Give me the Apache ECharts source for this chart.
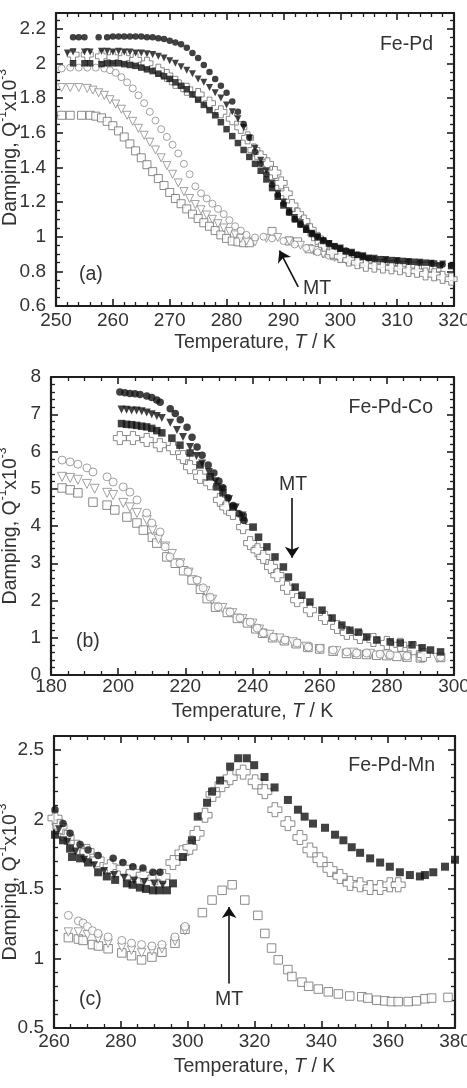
<!DOCTYPE html>
<html><head><meta charset="utf-8">
<script src="https://cdn.jsdelivr.net/npm/echarts@6/dist/echarts.min.js"></script>
<style>html,body{margin:0;padding:0;background:#fff}#c{width:467px;height:1088px}</style>
</head><body><div id="c"></div>
<script>
// ---------- Panel (a) Fe-Pd ----------
const aFilledCircle = [[253,2.15],[254,2.15],[255,2.15],[257.5,2.15],[259,2.15],[260,2.155],[261,2.155],[262,2.155],[263,2.155],[264,2.155],[265,2.155],[266,2.15],[267,2.15],[268,2.145],[269,2.14],[270,2.13],[271,2.12],[272,2.11],[273,2.09],[274,2.06],[275,2.03],[276,1.99],[277,1.95],[278,1.91],[279,1.87],[280,1.83],[281,1.78],[282,1.72],[283,1.65],[284,1.57],[285,1.49],[286,1.42],[287,1.36],[288,1.30],[289,1.24],[290,1.19],[291,1.14],[292,1.10],[293,1.07],[294,1.04],[295,1.02],[296,1.0],[297,0.98],[298,0.96],[299,0.945],[300,0.93],[301,0.92],[302,0.905],[303,0.895],[304,0.885],[305,0.875],[306,0.87],[308,0.865],[310,0.86],[312,0.855],[314,0.85],[316,0.845],[318,0.84],[319.5,0.835]];
const aFilledTri = [[252,2.06],[253,2.065],[255,2.065],[256,2.065],[258,2.07],[259,2.07],[260,2.065],[261,2.07],[262,2.065],[263,2.065],[264,2.06],[265,2.06],[266,2.055],[267,2.05],[268,2.04],[269,2.03],[270,2.015],[271,2.0],[272,1.98],[273,1.96],[274,1.94],[275,1.91],[276,1.89],[277,1.86],[278,1.83],[279,1.80],[280,1.76],[281,1.72],[282,1.68],[283,1.63],[284,1.57],[285,1.51],[286,1.44],[287,1.38],[288,1.31],[289,1.25],[290,1.2],[291,1.15],[292,1.11],[293,1.08],[294,1.05],[295,1.02],[296,1.0],[297,0.975],[298,0.96],[300,0.935],[302,0.91],[304,0.89],[306,0.875],[308,0.868],[310,0.862],[312,0.857],[314,0.852],[316,0.847],[318,0.842]];
const aFilledSq = [[253,2.0],[255,2.0],[256,2.0],[258,1.995],[259,2.0],[260,2.0],[261,2.0],[262,1.995],[263,1.99],[264,1.985],[265,1.975],[266,1.965],[267,1.955],[268,1.94],[269,1.925],[270,1.91],[271,1.89],[272,1.87],[273,1.85],[274,1.82],[275,1.79],[276,1.76],[277,1.73],[278,1.70],[279,1.66],[280,1.62],[281,1.58],[282,1.54],[283,1.50],[284,1.46],[285,1.42],[286,1.38],[287,1.33],[288,1.28],[289,1.23],[290,1.18],[291,1.14],[292,1.10],[293,1.07],[294,1.04],[295,1.015],[296,0.995],[297,0.975],[298,0.96],[299,0.945],[300,0.93],[301,0.915],[302,0.905],[303,0.895],[304,0.885],[305,0.878],[307,0.87],[309,0.865],[311,0.86],[313,0.855],[315,0.85],[316.5,0.845],[317.5,0.835],[319.5,0.83]];
const aOpenPlus = [[253,2.05],[255.5,2.05],[258,2.04],[260,2.035],[262,2.03],[264,2.02],[266,2.0],[268,1.96],[269.5,1.93],[271,1.89],[273,1.85],[275,1.82],[277,1.77],[279,1.72],[281,1.68],[282.5,1.63],[283.7,1.57],[284.8,1.50],[286,1.46],[287.2,1.42],[288.5,1.37],[289.6,1.31],[290.5,1.25],[291.5,1.18],[292.5,1.13],[293.6,1.09],[294.7,1.04],[296,0.99],[297.2,0.95],[298.6,0.91],[300,0.885],[301.5,0.865],[303,0.85],[304.5,0.835],[306,0.83],[307.5,0.825],[309,0.82],[310.5,0.815],[312,0.805],[313.5,0.80],[315,0.785],[316.5,0.78],[318,0.765],[319.5,0.755]];
const aOpenCircle = [[251,1.97],[252.5,1.975],[254,1.975],[255.5,1.975],[257,1.975],[258.5,1.97],[259.5,1.96],[260.5,1.945],[261.5,1.92],[262.5,1.89],[263.5,1.855],[264.5,1.815],[265.5,1.77],[266.5,1.72],[267.5,1.67],[268.5,1.62],[269.5,1.575],[270.5,1.53],[271.5,1.48],[272.5,1.42],[273.5,1.36],[274.5,1.29],[275.5,1.25],[276.5,1.22],[277.5,1.19],[278.5,1.16],[279.5,1.13],[280.5,1.095],[281.5,1.06],[282.5,1.035],[283.5,1.01],[285,0.995],[286.5,1.0],[288,0.99],[290,0.975],[292,0.955],[294,0.935],[296,0.91],[298,0.89],[300,0.875],[302,0.86],[304,0.85]];
const aOpenTri = [[251,1.86],[252.5,1.86],[254,1.86],[255.5,1.855],[256.5,1.845],[257.5,1.83],[258.5,1.815],[259.5,1.79],[260.5,1.765],[261.5,1.735],[262.5,1.70],[263.5,1.665],[264.5,1.625],[265.5,1.585],[266.5,1.545],[267.5,1.50],[268.5,1.455],[269.5,1.41],[270.5,1.36],[271.5,1.31],[272.5,1.26],[273.5,1.22],[274.5,1.185],[275.5,1.155],[276.5,1.125],[277.5,1.1],[278.5,1.075],[279.5,1.05],[280.5,1.03],[281.5,1.01],[282.5,0.99],[283.5,0.975],[285,0.97],[287,0.99],[289,0.995],[291,0.975],[293,0.95],[295,0.925],[297,0.9],[299,0.88],[301,0.865],[303,0.85]];
const aOpenSq = [[251,1.70],[252.5,1.70],[254.5,1.70],[256,1.70],[257,1.695],[258,1.685],[259,1.665],[260,1.64],[261,1.61],[262,1.575],[263,1.535],[264,1.495],[265,1.455],[266,1.415],[267,1.375],[268,1.335],[269,1.295],[270,1.255],[271,1.22],[272,1.19],[273,1.16],[274,1.13],[275,1.105],[276,1.08],[277,1.06],[278,1.035],[279,1.01],[280,0.99],[281,0.975],[282,0.97],[283,0.965],[284,0.965],[288,1.03],[291,0.975],[292.5,0.97],[294.5,0.93],[296,0.92],[297.5,0.905],[299,0.89],[300.5,0.88],[302,0.87],[303.5,0.86],[305,0.85],[307,0.845],[309,0.84],[311,0.835],[313,0.83],[315,0.83],[317,0.82]];
const aArrow = [[292.6,0.71],[289.3,0.92]];

// ---------- Panel (b) Fe-Pd-Co ----------
const bFilledCircle = [[200.5,7.6],[202,7.58],[203.5,7.56],[205,7.55],[206.5,7.53],[208.5,7.49],[210,7.45],[211.5,7.38],[212.5,7.32],[215.5,7.15],[217,7.02],[218.5,6.85],[220.5,6.65],[222,6.38],[223.5,6.12],[225,5.9],[226.8,5.64],[228.5,5.42],[230,5.2],[231.2,5.03],[232.7,4.76],[234.2,4.55],[236,4.33],[237.5,4.15]];
const bFilledTri = [[201,7.13],[202.5,7.12],[204,7.1],[205.5,7.1],[207,7.08],[208.5,7.05],[210,7.0],[211.5,6.95],[213,6.9],[215.5,6.77],[217.5,6.58],[219.3,6.39],[221.4,6.12],[223.3,5.88],[225,5.68],[227,5.45],[229,5.2],[231,4.98],[233,4.72],[235,4.5],[237,4.28]];
const bFilledSq = [[201,6.75],[202.5,6.73],[204,6.72],[205.5,6.7],[207,6.68],[208.5,6.66],[210,6.62],[211.5,6.56],[213,6.5],[216,6.36],[218.4,6.17],[221.4,5.96],[224.4,5.64],[227.4,5.32],[229.4,5.05],[231.2,4.89],[234.2,4.51],[237.2,4.24],[240.2,3.97],[241.8,3.7],[244.3,3.44],[246.7,3.17],[249.2,2.9],[250.7,2.63],[252.7,2.36],[254.7,2.14],[257.1,1.96],[260.7,1.74],[263.7,1.53],[266.6,1.34],[269,1.2],[271.5,1.15],[274,1.02],[277,0.94],[281,0.89],[284,0.86],[287.5,0.81],[290.5,0.73],[293,0.67],[296,0.62]];
const bOpenPlus = [[200.5,6.36],[204.4,6.36],[208.5,6.31],[212.4,6.17],[216.3,6.09],[219.3,5.85],[221.4,5.58],[224.4,5.32],[227.4,5.15],[230.3,4.7],[232.2,4.5],[234.2,4.35],[237.2,3.97],[239.3,3.54],[241.5,3.35],[243.2,3.17],[245.5,2.9],[247.4,2.68],[250.3,2.34],[253.3,2.01],[257.1,1.74],[261.6,1.53],[265.2,1.29],[268.1,1.13],[272,1.02],[276,0.94],[280,0.86],[284,0.81],[288,0.72],[291,0.54]];
const bOpenCircle = [[183.3,5.77],[185.7,5.72],[188,5.66],[190.7,5.56],[192.5,5.45],[196.7,5.32],[198.5,5.18],[201.5,5.05],[203.5,4.91],[205.6,4.7],[208.5,4.35],[210,4.08],[212.5,3.84],[214,3.44],[215.4,3.17],[218.4,3.0],[220.8,2.77],[223.5,2.55],[225.3,2.34],[227.4,2.09],[229.8,1.83],[233.3,1.69],[236.3,1.53],[239.3,1.42],[241.4,1.26],[243.2,1.13],[246.2,1.02],[249.7,0.94],[253.3,0.86],[256.6,0.75],[260.1,0.72],[264,0.67],[268.1,0.62],[271,0.59],[274,0.59],[278,0.56],[281,0.54],[286,0.51],[290,0.48],[296,0.48]];
const bOpenTri = [[183.3,5.32],[185.7,5.29],[188,5.24],[190.7,5.13],[193,5.0],[196.7,4.89],[198.5,4.83],[201.5,4.62],[203.5,4.5],[205.6,4.35],[208.5,4.16],[210.2,3.89],[212,3.65],[214,3.45],[216,3.25],[218.5,3.0],[221,2.75],[223.5,2.5],[226,2.25],[228,2.02],[231,1.8],[234,1.66],[237,1.5],[240,1.38],[242,1.22],[245,1.08],[248,0.98],[252,0.88],[256,0.76],[260,0.7],[265,0.64],[270,0.6],[275,0.57],[280,0.55],[285,0.51],[290,0.47],[295,0.46]];
const bOpenSq = [[183.3,5.02],[185.7,4.97],[188,4.89],[192.5,4.64],[196.7,4.56],[199,4.43],[202.6,4.24],[205.6,4.08],[207.5,3.89],[210.2,3.7],[211.5,3.54],[214.5,3.17],[217,3.0],[219.5,2.8],[222,2.55],[224.5,2.3],[226.5,2.05],[229,1.82],[232.5,1.68],[235.5,1.52],[238.5,1.4],[241,1.24],[243,1.12],[246,1.0],[249.5,0.92],[253,0.84],[256.5,0.74],[260,0.7],[264,0.64],[268,0.58],[271,0.56],[274,0.55],[277,0.53],[280,0.52],[283,0.5],[286,0.48],[290,0.46],[296,0.47]];
const bArrow = [[251.8,4.75],[251.8,3.15]];

// ---------- Panel (c) Fe-Pd-Mn ----------
const cFilledCircle = [[260.3,2.07],[262.7,1.97],[264.8,1.9],[267.8,1.82],[270.2,1.78],[273.2,1.74],[277.7,1.72],[280.6,1.69],[283.6,1.66],[286.6,1.65],[289.6,1.62],[291.7,1.62]];
const cFilledTri = [[261.5,1.93],[264,1.84],[266.5,1.77],[269,1.71],[272,1.67],[275,1.63],[278,1.6],[281,1.58],[284,1.56],[287,1.55],[290,1.54],[292.5,1.53]];
const cFilledSq = [[260.3,1.89],[262.7,1.85],[264.8,1.79],[265.4,1.73],[267.8,1.72],[270.2,1.69],[273.2,1.62],[275.8,1.59],[278.3,1.565],[281.8,1.54],[283.5,1.53],[285.7,1.51],[287.5,1.5],[289.6,1.49],[291.5,1.49],[293.8,1.49],[295.6,1.54],[298.6,1.73],[301.3,1.85],[303,2.02],[305.8,2.12],[307.3,2.2],[309.7,2.28],[312.7,2.38],[315.1,2.44],[317.7,2.44],[319.9,2.39],[323,2.305],[326,2.23],[330,2.14],[333,2.07],[335,2.02],[337.5,1.97],[341.1,1.94],[344.1,1.89],[346.6,1.85],[349.1,1.80],[351.6,1.76],[354.6,1.72],[357.6,1.69],[360.5,1.66],[363.5,1.62],[366.5,1.60],[369.5,1.59],[371,1.60],[373.5,1.62],[377,1.66],[380,1.71]];
const cOpenPlus = [[260.3,2.01],[261.8,1.95],[263.9,1.87],[266.9,1.80],[269.9,1.77],[272.9,1.71],[276.8,1.66],[280.7,1.65],[283.7,1.62],[286.7,1.60],[290.2,1.58],[292.6,1.59],[295.6,1.69],[298.3,1.76],[300.7,1.80],[302.8,1.90],[305.2,2.03],[307.6,2.18],[310.3,2.25],[312.7,2.30],[316.6,2.34],[320.2,2.27],[323.1,2.20],[326.1,2.07],[330,1.97],[333.6,1.87],[336.6,1.78],[339.6,1.71],[342.6,1.64],[345.6,1.59],[348.6,1.54],[351.6,1.53],[354.6,1.51],[357.6,1.51],[360.5,1.53],[363,1.53]];
const cOpenCircle = [[264.3,1.31],[267.3,1.27],[268.7,1.255],[270,1.23],[271.5,1.2],[273.2,1.18],[276.2,1.155],[280.3,1.13],[283.2,1.11],[286.2,1.1],[289.3,1.09],[292.3,1.1],[296.2,1.155],[299.2,1.23]];
const cOpenTri = [[264.3,1.19],[267.3,1.19],[270,1.17],[273.2,1.14],[276.2,1.11],[280.3,1.08],[283.2,1.06],[286.2,1.04],[289.3,1.055],[292.3,1.07],[296.2,1.125],[299.2,1.2]];
const cOpenSq = [[264.3,1.15],[267.3,1.14],[268.7,1.13],[271.5,1.1],[273.3,1.09],[276.2,1.07],[280.3,1.04],[283.2,1.02],[286.2,0.99],[289.3,1.01],[292.3,1.045],[296.2,1.11],[299.2,1.21],[304.4,1.33],[307.3,1.42],[310.3,1.49],[313.3,1.53],[317.1,1.42],[321,1.31],[323.1,1.18],[325.1,1.075],[327.1,0.99],[330,0.92],[331.2,0.87],[334.2,0.83],[336.2,0.8],[339.1,0.78],[342.1,0.76],[345.1,0.745],[348.5,0.73],[352.1,0.725],[353.9,0.715],[356.6,0.7],[359,0.695],[361,0.69],[363,0.69],[366,0.69],[368.5,0.695],[371,0.71],[373,0.715],[377.9,0.72]];
const cArrow = [[312.4,0.82],[312.4,1.37]];

const panelNames = ['Fe-Pd', 'Fe-Pd-Co', 'Fe-Pd-Mn'];
const panelTags = ['(a)', '(b)', '(c)'];
const xName = ['Temperature, ', 'T', ' / K'];
const yName = ['Damping, Q', '-1', 'x10', '-3'];

const FONT = '"Liberation Sans", Arial, Helvetica, sans-serif';
const TXT = '#333';
const AX = '#1e1e1e';
const PLUS = 'path://M3,0H7V3H10V7H7V10H3V7H0V3H3Z';

const layout = [
  {grid:{left:56, top:13, width:398, height:293}, x:[250,320,10,5], y:[0.6,2.29,0.2,4], yGap:31, xGap:27, xMargin:5, yPad:[0,0,0,24]},
  {grid:{left:51, top:377, width:403, height:298}, x:[180,300,20,4], y:[0,8,1,5], yGap:26, xGap:27, xMargin:2, yPad:[0,0,0,0]},
  {grid:{left:54, top:736, width:401, height:292}, x:[260,380,20,4], y:[0.5,2.6,0.5,5], yGap:29, xGap:29, xMargin:4, yPad:[0,0,0,0]}
];

const baseLine = {show:true, onZero:false, lineStyle:{color:AX, width:2.2}};
const tickS = {show:true, inside:true, length:7, lineStyle:{color:AX, width:1.6}};
const minorS = (n)=>({show:true, splitNumber:n, length:4, lineStyle:{color:AX, width:1.3}});
const labS = {color:TXT, fontSize:19, fontFamily:FONT};

const grids=[], xAxes=[], yAxes=[], series=[];
layout.forEach((L, i) => {
  grids.push(Object.assign({containLabel:false, outerBoundsMode:'none'}, L.grid));
  const [xmin,xmax,xint,xminor] = L.x;
  const [ymin,ymax,yint,yminor] = L.y;
  const yfmt = v => (Math.abs(v/yint - Math.round(v/yint)) < 1e-6) ? String(+v.toFixed(2)) : '';
  xAxes.push({type:'value', gridIndex:i, position:'bottom', min:xmin, max:xmax, interval:xint,
    axisLine:baseLine, axisTick:tickS, minorTick:minorS(xminor), splitLine:{show:false}, minorSplitLine:{show:false},
    axisLabel:Object.assign({margin:L.xMargin, showMaxLabel:true, showMinLabel:true, hideOverlap:false}, labS),
    name:'{a|'+xName[0]+'}{i|'+xName[1]+'}{a|'+xName[2]+'}', nameLocation:'middle', nameGap:L.xGap, nameMoveOverlap:false,
    nameTextStyle:{rich:{a:{fontSize:19.5, color:TXT, fontFamily:FONT}, i:{fontSize:19.5, color:TXT, fontFamily:FONT, fontStyle:'italic'}}}});
  xAxes.push({type:'value', gridIndex:i, position:'top', min:xmin, max:xmax, interval:xint,
    axisLine:baseLine, axisTick:tickS, minorTick:minorS(xminor), splitLine:{show:false}, axisLabel:{show:false}});
  yAxes.push({type:'value', gridIndex:i, position:'left', min:ymin, max:ymax, interval:yint,
    axisLine:baseLine, axisTick:tickS, minorTick:minorS(yminor), splitLine:{show:false}, minorSplitLine:{show:false},
    axisLabel:Object.assign({margin:10, formatter:yfmt, showMaxLabel:true, hideOverlap:false}, labS),
    name:'{a|'+yName[0]+'}{s|'+yName[1]+'}{a|'+yName[2]+'}{s|'+yName[3]+'}', nameLocation:'middle', nameGap:L.yGap, nameRotate:90, nameMoveOverlap:false,
    nameTextStyle:{padding:L.yPad, rich:{a:{fontSize:19.5, lineHeight:28, color:TXT, fontFamily:FONT}, s:{fontSize:12, verticalAlign:'top', color:TXT, fontFamily:FONT}}}});
  yAxes.push({type:'value', gridIndex:i, position:'right', min:ymin, max:ymax, interval:yint,
    axisLine:baseLine, axisTick:tickS, minorTick:minorS(yminor), splitLine:{show:false}, axisLabel:{show:false}});
});

function sc(i, data, kind, size) {
  const s = {type:'scatter', xAxisIndex:2*i, yAxisIndex:2*i, data:data, symbolSize:size, silent:true, animation:false, z:2};
  const dark = '#111', grey = '#8a8a8a', grey2 = '#6e6e6e';
  if (kind==='fc') { s.symbol='circle'; s.itemStyle={color:dark}; }
  if (kind==='ft') { s.symbol='triangle'; s.symbolRotate=180; s.itemStyle={color:dark}; }
  if (kind==='fs') { s.symbol='rect'; s.itemStyle={color:dark}; }
  if (kind==='op') { s.symbol=PLUS; s.itemStyle={color:'#fff', borderColor:grey2, borderWidth:1}; }
  if (kind==='oc') { s.symbol='circle'; s.itemStyle={color:'#fff', borderColor:grey, borderWidth:1}; }
  if (kind==='ot') { s.symbol='triangle'; s.symbolRotate=180; s.itemStyle={color:'#fff', borderColor:grey, borderWidth:1}; }
  if (kind==='os') { s.symbol='rect'; s.itemStyle={color:'#fff', borderColor:grey2, borderWidth:1}; }
  return s;
}
function arrow(i, pts) {
  return {type:'scatter', xAxisIndex:2*i, yAxisIndex:2*i, data:[], silent:true, animation:false, z:5,
    markLine:{silent:true, animation:false, symbol:['none','arrow'], symbolSize:11, label:{show:false},
      lineStyle:{color:'#111', width:1.6, type:'solid'}, emphasis:{disabled:true},
      data:[[{coord:pts[0]},{coord:pts[1]}]]}};
}

series.push(sc(0,aOpenSq,'os',8), sc(0,aOpenTri,'ot',8), sc(0,aOpenCircle,'oc',7), sc(0,aOpenPlus,'op',12),
  sc(0,aFilledCircle,'fc',6.5), sc(0,aFilledTri,'ft',7), sc(0,aFilledSq,'fs',6.5), arrow(0,aArrow));
series.push(sc(1,bOpenSq,'os',8.5), sc(1,bOpenTri,'ot',9), sc(1,bOpenCircle,'oc',8), sc(1,bOpenPlus,'op',13),
  sc(1,bFilledCircle,'fc',7.5), sc(1,bFilledTri,'ft',8), sc(1,bFilledSq,'fs',7.5), arrow(1,bArrow));
series.push(sc(2,cOpenSq,'os',8.5), sc(2,cOpenTri,'ot',8.5), sc(2,cOpenCircle,'oc',8), sc(2,cOpenPlus,'op',14),
  sc(2,cFilledCircle,'fc',7.5), sc(2,cFilledTri,'ft',8), sc(2,cFilledSq,'fs',8), arrow(2,cArrow));

const tStyle = (txt) => ({text:txt, fill:TXT, font:'19.5px '+FONT});
const graphic = [
  {type:'text', right:34, top:35, style:tStyle(panelNames[0])},
  {type:'text', left:79, top:265, style:tStyle(panelTags[0])},
  {type:'text', left:303, top:279, style:tStyle('MT')},
  {type:'text', right:34, top:398, style:tStyle(panelNames[1])},
  {type:'text', left:76, top:632, style:tStyle(panelTags[1])},
  {type:'text', left:279, top:475, style:tStyle('MT')},
  {type:'text', right:32, top:756, style:tStyle(panelNames[2])},
  {type:'text', left:79, top:990, style:tStyle(panelTags[2])},
  {type:'text', left:215, top:990, style:tStyle('MT')}
];

const chart = echarts.init(document.getElementById('c'), null, {renderer:'canvas'});
chart.setOption({animation:false, backgroundColor:'#fff', grid:grids, xAxis:xAxes, yAxis:yAxes, series:series, graphic:graphic});
</script></body></html>
